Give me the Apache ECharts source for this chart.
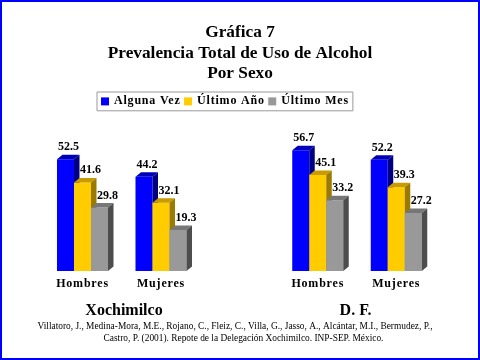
<!DOCTYPE html>
<html><head><meta charset="utf-8">
<script src="https://cdn.jsdelivr.net/npm/echarts@6/dist/echarts.min.js"></script>
<style>html,body{margin:0;padding:0;background:#fff}#c{width:480px;height:360px}</style>
</head><body><div id="c"></div>
<script>
// ---- data ----
const categories = ['Hombres', 'Mujeres'];
const seriesNames = ['Alguna Vez', 'Último Año', 'Último Mes'];
const xochimilcoAlgunaVez = [52.5, 44.2];
const xochimilcoUltimoAnio = [41.6, 32.1];
const xochimilcoUltimoMes = [29.8, 19.3];
const dfAlgunaVez = [56.7, 52.2];
const dfUltimoAnio = [45.1, 39.3];
const dfUltimoMes = [33.2, 27.2];
const groupTitles = ['Xochimilco', 'D. F.'];
const chartTitle = 'Gráfica 7\nPrevalencia Total de Uso de Alcohol\nPor Sexo';
const citationLine1 = 'Villatoro, J., Medina-Mora, M.E., Rojano, C., Fleiz, C., Villa, G., Jasso, A., Alcántar, M.I., Bermudez, P.,';
const citationLine2 = 'Castro, P. (2001). Repote de la Delegación Xochimilco. INP-SEP. México.';

// ---- letter-spaced text style (legend and category labels) ----
(function () {
  const P = window.CanvasRenderingContext2D && CanvasRenderingContext2D.prototype;
  if (!P || !('letterSpacing' in P)) return;
  const ft = P.fillText, st = P.strokeText, mt = P.measureText;
  function apply(ctx) { ctx.letterSpacing = /Spaced/.test(ctx.font) ? '0.8px' : '0px'; }
  P.fillText = function () { apply(this); return ft.apply(this, arguments); };
  P.strokeText = function () { apply(this); return st.apply(this, arguments); };
  P.measureText = function () { apply(this); return mt.apply(this, arguments); };
})();

// ---- styles ----
const SERIF = '"Liberation Serif", "Times New Roman", serif';
const SPACED = '"Spaced", "Liberation Serif", "Times New Roman", serif';
const palette = [
  ['#0000FF', '#0000B8', '#000080'],
  ['#FFCC00', '#C89B00', '#9A7A00'],
  ['#999999', '#777777', '#4D4D4D']
];

function makeRender(k, c) {
  return function (params, api) {
    const i = api.value(0), v = api.value(1);
    const base = api.coord([i, 0]);
    const top = api.coord([i, v]);
    const band = api.size([1, 0])[0];
    const bw = band * 0.2166;
    const x0 = base[0] - 1.5 * bw + k * bw;
    const x1 = x0 + bw;
    const yb = base[1], yt = top[1];
    const dx = 5.5, dy = 4.5;
    return {
      type: 'group',
      children: [
        { type: 'rect', shape: { x: x0, y: yt, width: bw, height: yb - yt }, style: { fill: c[0] } },
        { type: 'polygon', shape: { points: [[x0, yt], [x0 + dx, yt - dy], [x1 + dx, yt - dy], [x1, yt]] }, style: { fill: c[1] } },
        { type: 'polygon', shape: { points: [[x1, yt], [x1 + dx, yt - dy], [x1 + dx, yb - dy], [x1, yb]] }, style: { fill: c[2] } },
        { type: 'text', x: x0 + (k === 0 ? 1 : 6), y: yt - 12,
          style: { text: v.toFixed(1), font: 'bold 12px ' + SERIF, fill: '#000', align: 'left', verticalAlign: 'middle' } }
      ]
    };
  };
}

const panels = [
  [xochimilcoAlgunaVez, xochimilcoUltimoAnio, xochimilcoUltimoMes],
  [dfAlgunaVez, dfUltimoAnio, dfUltimoMes]
];

const series = [];
panels.forEach(function (panel, g) {
  panel.forEach(function (vals, k) {
    series.push({
      type: 'custom',
      name: seriesNames[k],
      xAxisIndex: g,
      yAxisIndex: g,
      itemStyle: { color: palette[k][0] },
      encode: { x: 0, y: 1 },
      data: vals.map(function (v, i) { return [i, v]; }),
      renderItem: makeRender(k, palette[k])
    });
  });
});

const gridLefts = [43.25, 278.5];
const option = {
  animation: false,
  backgroundColor: '#fff',
  title: [
    { text: chartTitle, left: 'center', top: 22.5, padding: 0,
      textStyle: { fontFamily: SERIF, fontWeight: 'bold', fontSize: 17.3, lineHeight: 20.5, color: '#000' } },
    { text: groupTitles[0], left: 124, textAlign: 'center', top: 302.5, padding: 0,
      textStyle: { fontFamily: SERIF, fontWeight: 'bold', fontSize: 16, color: '#000' } },
    { text: groupTitles[1], left: 355.5, textAlign: 'center', top: 302.5, padding: 0,
      textStyle: { fontFamily: SERIF, fontWeight: 'bold', fontSize: 16, color: '#000' } },
    { text: citationLine1, left: 235, textAlign: 'center', top: 322, padding: 0,
      textStyle: { fontFamily: SERIF, fontWeight: 'normal', fontSize: 9.4, color: '#000' } },
    { text: citationLine2, left: 243.5, textAlign: 'center', top: 334.5, padding: 0,
      textStyle: { fontFamily: SERIF, fontWeight: 'normal', fontSize: 9.4, color: '#000' } }
  ],
  legend: {
    data: seriesNames,
    left: 97, top: 92,
    icon: 'rect', itemWidth: 8, itemHeight: 8, itemGap: 3.5,
    padding: [3, 4, 3, 4],
    borderColor: '#999', borderWidth: 1,
    textStyle: { fontFamily: SPACED, fontWeight: 'bold', fontSize: 12, color: '#000' }
  },
  grid: gridLefts.map(function (l) {
    return { left: l, width: 157, top: 143.2, height: 127.8 };
  }),
  xAxis: gridLefts.map(function (l, g) {
    return {
      type: 'category', gridIndex: g, data: categories,
      axisLine: { show: false }, axisTick: { show: false }, splitLine: { show: false },
      axisLabel: { margin: 7, fontFamily: SPACED, fontWeight: 'bold', fontSize: 12, color: '#000' }
    };
  }),
  yAxis: gridLefts.map(function (l, g) {
    return { type: 'value', gridIndex: g, min: 0, max: 60, show: false };
  }),
  graphic: [
    { type: 'rect', shape: { x: 1, y: 1, width: 478, height: 358 }, style: { fill: 'none', stroke: '#0000FF', lineWidth: 2 }, z: 100 }
  ],
  series: series
};

const chart = echarts.init(document.getElementById('c'), null, { renderer: 'canvas' });
chart.setOption(option);
</script>
</body></html>
